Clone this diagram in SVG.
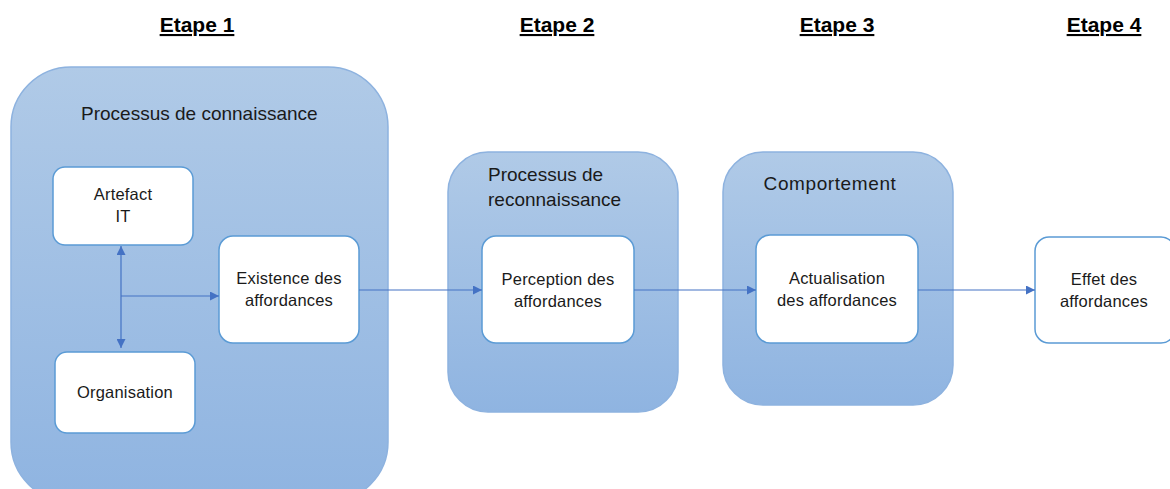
<svg xmlns="http://www.w3.org/2000/svg" width="1170" height="489" viewBox="0 0 1170 489">
<defs>
<linearGradient id="g" x1="0" y1="0" x2="0" y2="1">
<stop offset="0" stop-color="#B0CAE7"/>
<stop offset="1" stop-color="#8FB4E1"/>
</linearGradient>
<marker id="ah" viewBox="0 0 10 10" refX="10" refY="5" markerWidth="9" markerHeight="9" markerUnits="userSpaceOnUse" orient="auto-start-reverse">
<path d="M0,0 L10,5 L0,10 Z" fill="#4472C4"/>
</marker>
<style>
.grp{fill:url(#g);stroke:#8DB2DF;stroke-width:1.5}
.box{fill:#fff;stroke:#5B9BD5;stroke-width:1.5}
.t{font-family:"Liberation Sans",Arial,sans-serif;fill:#1a1a1a}
.h{font-family:"Liberation Sans",Arial,sans-serif;font-weight:bold;font-size:21px;fill:#000;text-anchor:middle;text-decoration:underline}
.lbl{font-size:16.5px;text-anchor:middle;letter-spacing:0.2px}
.ttl{font-size:19px}
.c{fill:none;stroke:#4472C4;stroke-width:1.2}
</style>
</defs>
<g id="headings">
<text class="h" x="197" y="32">Etape 1</text>
<text class="h" x="557" y="32">Etape 2</text>
<text class="h" x="837" y="32">Etape 3</text>
<text class="h" x="1104" y="32">Etape 4</text>
</g>
<g id="etape1">
<rect class="grp" x="11" y="67" width="377" height="435" rx="60"/>
<text class="t ttl" x="81" y="120">Processus de connaissance</text>
</g>
<g id="etape2">
<rect class="grp" x="448" y="152" width="230" height="260" rx="40"/>
<text class="t ttl" x="488" y="181">Processus de</text>
<text class="t ttl" x="488" y="206">reconnaissance</text>
</g>
<g id="etape3">
<rect class="grp" x="723" y="152" width="230" height="253" rx="40"/>
<text class="t ttl" x="830" y="190" text-anchor="middle" letter-spacing="0.6">Comportement</text>
</g>
<g id="artefact">
<rect class="box" x="53" y="167" width="140" height="78" rx="12"/>
<text class="t lbl" x="123" y="200">Artefact</text>
<text class="t lbl" x="123" y="222">IT</text>
</g>
<g id="organisation">
<rect class="box" x="55" y="352" width="140" height="81" rx="12"/>
<text class="t lbl" x="125" y="398">Organisation</text>
</g>
<g id="existence">
<rect class="box" x="219" y="236" width="140" height="107" rx="14"/>
<text class="t lbl" x="289" y="284">Existence des</text>
<text class="t lbl" x="289" y="306">affordances</text>
</g>
<g id="perception">
<rect class="box" x="482" y="236" width="152" height="107" rx="14"/>
<text class="t lbl" x="558" y="285">Perception des</text>
<text class="t lbl" x="558" y="307">affordances</text>
</g>
<g id="actualisation">
<rect class="box" x="756" y="235" width="162" height="108" rx="14"/>
<text class="t lbl" x="837" y="284">Actualisation</text>
<text class="t lbl" x="837" y="306">des affordances</text>
</g>
<g id="effet">
<rect class="box" x="1035" y="237" width="140" height="106" rx="14"/>
<text class="t lbl" x="1104" y="285">Effet des</text>
<text class="t lbl" x="1104" y="307">affordances</text>
</g>
<g id="connectors">
<line class="c" x1="121" y1="246" x2="121" y2="348" marker-start="url(#ah)" marker-end="url(#ah)"/>
<line class="c" x1="121" y1="296" x2="219" y2="296" marker-end="url(#ah)"/>
<line class="c" x1="359" y1="290" x2="482" y2="290" marker-end="url(#ah)"/>
<line class="c" x1="634" y1="290" x2="756" y2="290" marker-end="url(#ah)"/>
<line class="c" x1="918" y1="290" x2="1035" y2="290" marker-end="url(#ah)"/>
</g>
</svg>
